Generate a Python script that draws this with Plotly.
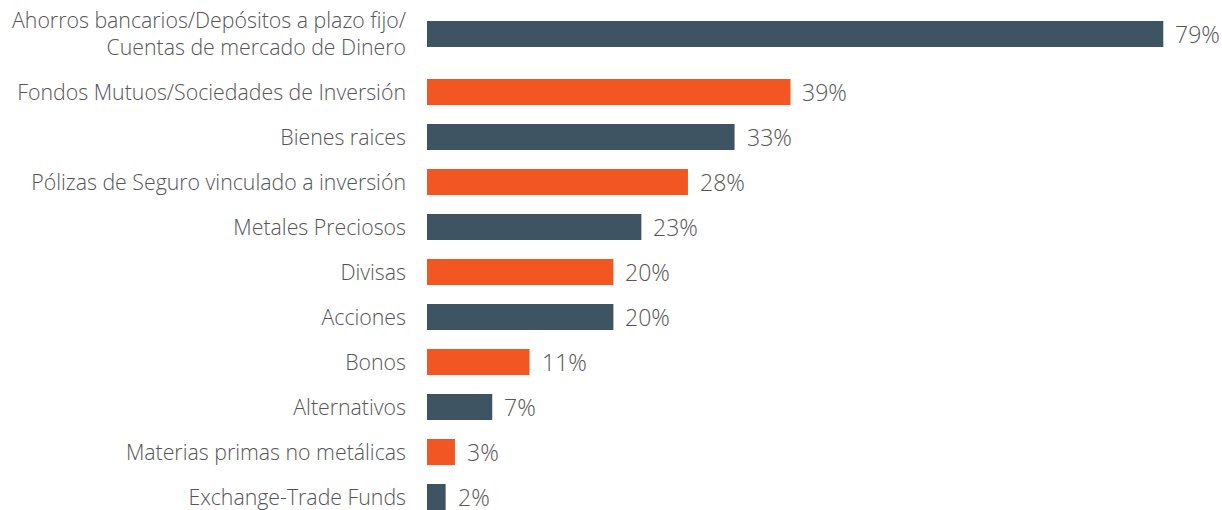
import plotly.graph_objects as go

# Share of respondents holding each investment product (%)
categories = [
    "Ahorros bancarios/Depósitos a plazo fijo/<br>Cuentas de mercado de Dinero",
    "Fondos Mutuos/Sociedades de Inversión",
    "Bienes raices",
    "Pólizas de Seguro vinculado a inversión",
    "Metales Preciosos",
    "Divisas",
    "Acciones",
    "Bonos",
    "Alternativos",
    "Materias primas no metálicas",
    "Exchange-Trade Funds",
]
values = [79, 39, 33, 28, 23, 20, 20, 11, 7, 3, 2]

SLATE = "#3e5462"
ORANGE = "#f15623"
TEXT = "#555555"
FONT = "Open Sans"

# Alternate slate / orange rows
colors = [SLATE if i % 2 == 0 else ORANGE for i in range(len(values))]

# Row positions: the first row carries a two-line label, so the rest sit a bit lower
extra_gap = 0.29
positions = [i + (extra_gap if i > 0 else 0) for i in range(len(values))]

fig = go.Figure(
    go.Bar(
        x=values,
        y=positions,
        orientation="h",
        width=0.58,
        marker=dict(color=colors, line=dict(width=0)),
        hoverinfo="skip",
    )
)

# Percentage labels just past the end of each bar
for v, p in zip(values, positions):
    fig.add_annotation(
        x=v,
        y=p,
        text=f"{v}%",
        showarrow=False,
        xanchor="left",
        yanchor="middle",
        xshift=10,
        font=dict(family=FONT, size=23, color=TEXT, weight=300),
    )

fig.update_layout(
    width=1222,
    height=510,
    margin=dict(l=427, r=0, t=0, b=0),
    paper_bgcolor="white",
    plot_bgcolor="white",
    showlegend=False,
    font=dict(family=FONT, color=TEXT, size=18),
    xaxis=dict(
        range=[0, 85.3],
        visible=False,
        fixedrange=True,
    ),
    yaxis=dict(
        range=[10.578, -0.756],
        tickvals=positions,
        ticktext=categories,
        showgrid=False,
        zeroline=False,
        showline=False,
        ticks="",
        ticklabelstandoff=20,
        ticklabeloverflow="allow",
        tickfont=dict(family=FONT, size=21.3, color=TEXT, weight=300),
        fixedrange=True,
    ),
)

fig.write_html("out.html")
